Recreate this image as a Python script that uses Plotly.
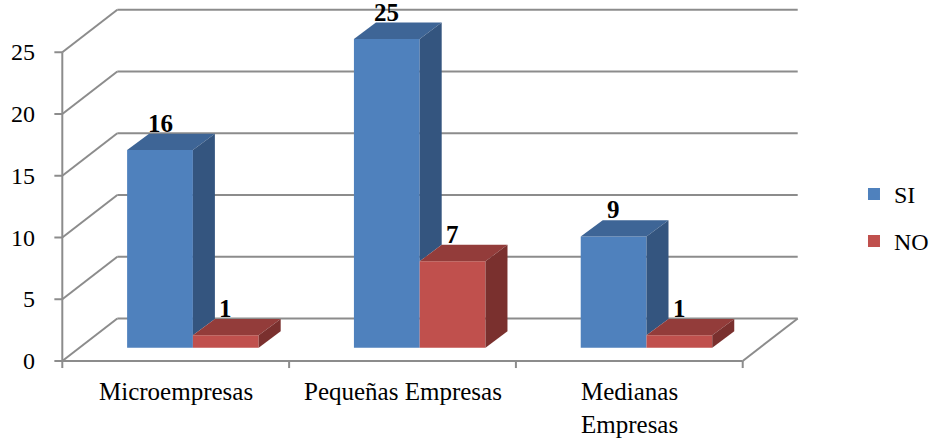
import plotly.graph_objects as go

# ---- data -------------------------------------------------------------
categories = ["Microempresas", "Pequeñas Empresas", "Medianas<br>Empresas"]
si_values = [16, 25, 9]
no_values = [1, 7, 1]
y_ticks = [0, 5, 10, 15, 20, 25]

# ---- look -------------------------------------------------------------
FONT = "Liberation Serif"
GRID = "#8C8C8C"
SI_FRONT, SI_TOP, SI_SIDE = "#4F81BD", "#3E6596", "#34557F"
NO_FRONT, NO_TOP, NO_SIDE = "#C0504D", "#933C3A", "#7A302E"

# pseudo-3D geometry (category units on x, value units on y)
WALL_DX, WALL_DY = 0.2425, 3.44     # depth of the whole box
FACE_DX, FACE_DY = 0.0758, 1.077    # depth at which the bar fronts sit
SIDE_DX, SIDE_DY = 0.097, 1.328     # depth of each bar
BAR_W = 0.29
N = len(categories)
Y_MAX = max(y_ticks)

fig = go.Figure()


def poly(xs, ys, color):
    fig.add_trace(go.Scatter(
        x=xs + [xs[0]], y=ys + [ys[0]], mode="lines", fill="toself",
        fillcolor=color, line=dict(width=0), hoverinfo="skip",
        showlegend=False))


# front faces as real bars
for name, vals, color, off in [("SI", si_values, SI_FRONT, -BAR_W + FACE_DX),
                               ("NO", no_values, NO_FRONT, FACE_DX)]:
    fig.add_trace(go.Bar(
        name=name, x=[i + 0.5 for i in range(N)], y=vals,
        base=[FACE_DY] * N, width=[BAR_W] * N, offset=[off] * N,
        marker=dict(color=color, line=dict(width=0)),
        legendgroup=name))

# tops and sides of the SI bars (side hidden below the NO bar top)
for i, (s, n) in enumerate(zip(si_values, no_values)):
    x0 = i + 0.5 - BAR_W + FACE_DX
    x1 = x0 + BAR_W
    top = s + FACE_DY
    poly([x0, x1, x1 + SIDE_DX, x0 + SIDE_DX],
         [top, top, top + SIDE_DY, top + SIDE_DY], SI_TOP)
    low = min(s, n) + FACE_DY
    poly([x1, x1, x1 + SIDE_DX, x1 + SIDE_DX],
         [low, top, top + SIDE_DY, low + SIDE_DY], SI_SIDE)

# tops and sides of the NO bars
for i, n in enumerate(no_values):
    x0 = i + 0.5 + FACE_DX
    x1 = x0 + BAR_W
    top = n + FACE_DY
    poly([x0, x1, x1 + SIDE_DX, x0 + SIDE_DX],
         [top, top, top + SIDE_DY, top + SIDE_DY], NO_TOP)
    poly([x1, x1, x1 + SIDE_DX, x1 + SIDE_DX],
         [FACE_DY, top, top + SIDE_DY, FACE_DY + SIDE_DY], NO_SIDE)

# ---- walls, grid and axes ---------------------------------------------
shapes = []


def line(xa, ya, xb, yb):
    shapes.append(dict(type="line", xref="x", yref="y", x0=xa, y0=ya,
                       x1=xb, y1=yb, layer="below",
                       line=dict(color=GRID, width=2)))


for v in y_ticks:
    line(0, v, WALL_DX, v + WALL_DY)                       # side wall
    line(WALL_DX, v + WALL_DY, N + WALL_DX, v + WALL_DY)   # back wall
    line(-0.035, v, 0, v)                                  # value ticks
line(0, 0, 0, Y_MAX)                                        # value axis
line(0, 0, N, 0)                                            # floor front
line(N, 0, N + WALL_DX, WALL_DY)                            # floor right
for i in range(N + 1):
    line(i, 0, i, -0.57)                                    # category ticks

annotations = []
for v in y_ticks:
    annotations.append(dict(x=-0.11, y=v, xref="x", yref="y", text=str(v),
                            showarrow=False, xanchor="right",
                            yanchor="middle",
                            font=dict(family=FONT, size=24, color="black")))
for i, c in enumerate(categories):
    annotations.append(dict(x=i + 0.5, y=-1.2, xref="x", yref="y", text=c,
                            showarrow=False, xanchor="center", yanchor="top",
                            font=dict(family=FONT, size=25, color="black")))

# value labels above each bar
for vals, off in [(si_values, -BAR_W + FACE_DX), (no_values, FACE_DX)]:
    for i, v in enumerate(vals):
        annotations.append(dict(
            x=i + 0.5 + off + BAR_W / 2, y=v + FACE_DY + SIDE_DY,
            xref="x", yref="y", text=f"<b>{v}</b>", showarrow=False,
            xanchor="center", yanchor="bottom", yshift=-5,
            font=dict(family=FONT, size=25, color="black")))

fig.update_layout(
    width=932, height=440,
    margin=dict(l=0, r=0, t=0, b=0, autoexpand=False),
    paper_bgcolor="white", plot_bgcolor="white",
    barmode="overlay",
    shapes=shapes, annotations=annotations,
    xaxis=dict(visible=False, range=[-0.2747, 3.8346], fixedrange=True),
    yaxis=dict(visible=False, range=[-6.397, 29.231], fixedrange=True),
    legend=dict(x=0.9163, y=0.505, xanchor="left", yanchor="middle",
                traceorder="grouped", tracegroupgap=13,
                font=dict(family=FONT, size=24, color="black"),
                bgcolor="rgba(0,0,0,0)"),
    showlegend=True,
)

fig.write_html("out.html")
